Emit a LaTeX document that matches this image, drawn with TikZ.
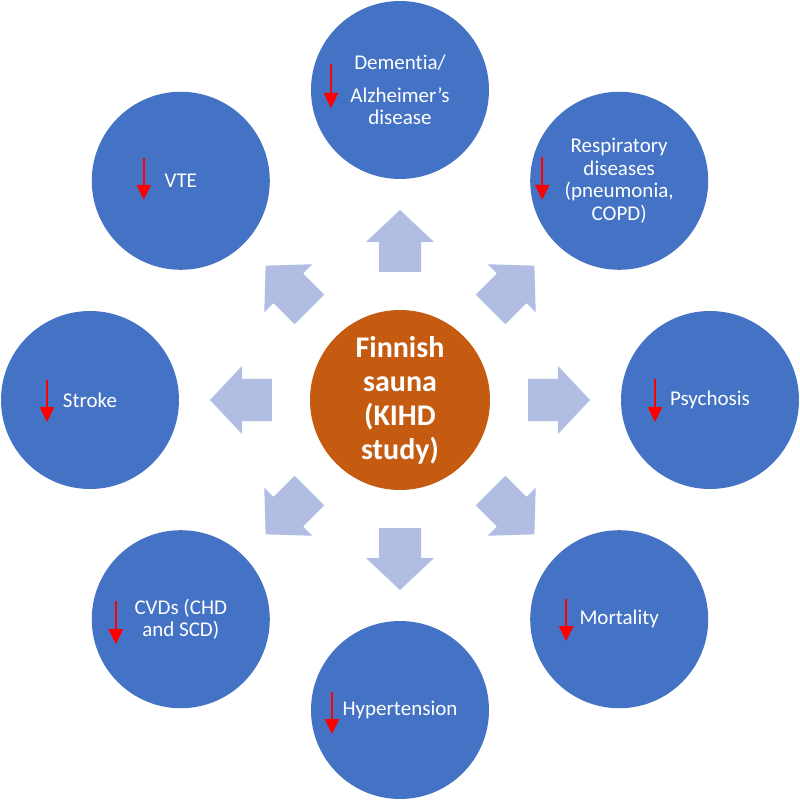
\documentclass[tikz,border=0pt]{standalone}
\usepackage{fontspec}
\setmainfont[Ligatures=CommonOff]{Carlito}
\usetikzlibrary{arrows.meta}
\definecolor{circblue}{RGB}{68,114,196}
\definecolor{saunaorange}{RGB}{197,90,17}
\definecolor{blockblue}{RGB}{177,189,226}

\begin{document}
\begin{tikzpicture}[x=1pt,y=1pt,
  outcome/.style={circle,fill=circblue,minimum size=178pt,inner sep=0pt,
    text=white,align=center,font=\fontsize{21}{22.5}\selectfont},
  decrease/.style={red,line width=2.4pt,-{Triangle[length=15pt,width=14pt]}}]
\useasboundingbox (-400,-400) rectangle (400,400);
% Block arrows around the centre
\foreach \a in {0,45,...,315} {
  \fill[blockblue,rotate=\a] (128,-21) -- (158,-21) -- (158,-34) -- (190,0)
    -- (158,34) -- (158,21) -- (128,21) -- cycle;
}
% Centre
\node[circle,fill=saunaorange,minimum size=180pt,inner sep=0pt,text=white,
  align=center,font=\fontsize{30}{34}\selectfont\bfseries] (sauna) at (0,0)
  {Finnish\\sauna\\(KIHD\\study)};
% Outcomes
\node[outcome] (dementia) at (90:310) {Dementia/\\[10pt]Alzheimer’s\\disease};
\node[outcome] (respir) at (45:310) {Respiratory\\diseases\\(pneumonia,\\COPD)};
\node[outcome] (psychosis) at (0:310) {Psychosis};
\node[outcome] (mortality) at (-45:310) {Mortality};
\node[outcome] (hypert) at (-90:310) {Hypertension};
\node[outcome] (cvd) at (-135:310) {CVDs (CHD\\and SCD)};
\node[outcome] (stroke) at (180:310) {Stroke};
\node[outcome] (vte) at (135:310) {VTE};
% Red down arrows
\draw[decrease] ([shift={(-69,26)}]dementia.center) -- ++(0,-44);
\draw[decrease] ([shift={(-77,24)}]respir.center) -- ++(0,-43);
\draw[decrease] ([shift={(-55,21)}]psychosis.center) -- ++(0,-43);
\draw[decrease] ([shift={(-53,20)}]mortality.center) -- ++(0,-42);
\draw[decrease] ([shift={(-68,18)}]hypert.center) -- ++(0,-42);
\draw[decrease] ([shift={(-65,18)}]cvd.center) -- ++(0,-43);
\draw[decrease] ([shift={(-43,20)}]stroke.center) -- ++(0,-42);
\draw[decrease] ([shift={(-37,23)}]vte.center) -- ++(0,-42);
\end{tikzpicture}
\end{document}
